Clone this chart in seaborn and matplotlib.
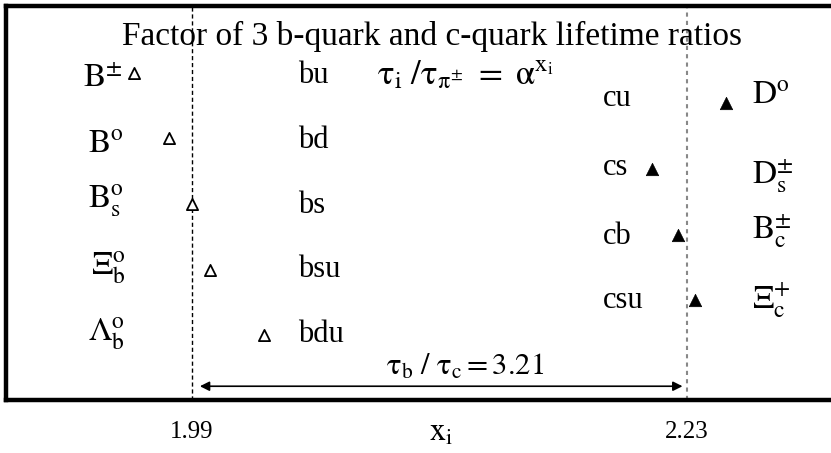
import matplotlib
matplotlib.use("Agg")
import matplotlib.pyplot as plt
import seaborn as sns
import pandas as pd

# Lifetime exponents x_i (tau_i / tau_pi = alpha^x_i)
b_hadrons = [r"$\mathrm{B}^{\pm}$", r"$\mathrm{B}^{\mathrm{o}}$", r"$\mathrm{B}_{\mathrm{s}}^{\mathrm{o}}$",
             r"$\Xi_{\mathrm{b}}^{\mathrm{o}}$", r"$\Lambda_{\mathrm{b}}^{\mathrm{o}}$"]
b_quarks = ["bu", "bd", "bs", "bsu", "bdu"]
b_x = [1.962, 1.979, 1.990, 1.999, 2.025]

c_hadrons = [r"$\mathrm{D}^{\mathrm{o}}$", r"$\mathrm{D}_{\mathrm{s}}^{\pm}$",
             r"$\mathrm{B}_{\mathrm{c}}^{\pm}$", r"$\Xi_{\mathrm{c}}^{+}$"]
c_quarks = ["cu", "cs", "cb", "csu"]
c_x = [2.249, 2.213, 2.226, 2.234]

ref_ticks = [1.99, 2.23]
tick_labels = ["1.99", "2.23"]
ratio_text = r"$\mathrm{\tau_b\ /\ \tau_c = 3.21}$"

sns.set_theme(style="white")
plt.rcParams["font.family"] = ["Liberation Serif", "DejaVu Serif"]
plt.rcParams["mathtext.fontset"] = "stix"
plt.rcParams["text.color"] = "black"
plt.rcParams["xtick.color"] = "black"

b_df = pd.DataFrame({"x": b_x, "row": [0, 1, 2, 3, 4]})
c_df = pd.DataFrame({"x": c_x, "row": [0.46, 1.47, 2.48, 3.47]})

fig = plt.figure(figsize=(8.31, 4.53), dpi=100)
ax = fig.add_axes([6 / 831, 1 - 400 / 453, 825 / 831, 394 / 453])

sns.scatterplot(data=b_df, x="x", y="row", marker="^", s=65, facecolor="white",
                edgecolor="black", linewidth=1.3, ax=ax, zorder=3)
sns.scatterplot(data=c_df, x="x", y="row", marker="^", s=80, color="black",
                edgecolor="black", linewidth=0.5, ax=ax, zorder=3)

ax.set_xlim(1.9, 2.3)
ax.set_ylim(4.99, -1.02)

# reference lines
ax.axvline(ref_ticks[0], color="black", lw=1.0, ls=(0, (3, 2)), zorder=1)
ax.axvline(ref_ticks[1], color="#888888", lw=1.5, ls=(0, (2, 2)), zorder=1)

# spines
for side in ["left", "top", "bottom"]:
    ax.spines[side].set_linewidth(3.2)
    ax.spines[side].set_color("black")
ax.spines["right"].set_visible(False)

ax.set_xticks(ref_ticks)
ax.set_xticklabels(tick_labels, fontsize=18)
ax.tick_params(axis="x", length=0, pad=15)
ax.set_yticks([])
ax.set_xlabel("")
ax.set_ylabel("")
ax.text(2.1109, -0.102, r"$\mathrm{x_i}$", transform=ax.get_xaxis_transform(),
        ha="center", va="baseline", fontsize=23)

fs = 22
pfs = 24
# title and formula
ax.text(2.1065, -0.43, "Factor of 3 b-quark and c-quark lifetime ratios",
        ha="center", va="baseline", fontsize=24)
ax.text(2.1225, 0.18, r"$\mathrm{\tau_i\ /\tau_{\pi^{\pm}}\ =\ \alpha^{x_i}}$",
        ha="center", va="baseline", fontsize=25)

# labels for b hadrons
left_y = [0.21, 1.21, 2.05, 3.08, 4.08]
left_x = [1.9375, 1.9397, 1.9397, 1.9412, 1.9397]
for name, lx, ly in zip(b_hadrons, left_x, left_y):
    ax.text(lx, ly, name, ha="left", va="baseline", fontsize=pfs)
bq_y = [0.15, 1.15, 2.14, 3.11, 4.11]
for q, qy in zip(b_quarks, bq_y):
    ax.text(2.0416, qy, q, ha="left", va="baseline", fontsize=fs)

# labels for c hadrons
cq_y = [0.50, 1.56, 2.61, 3.59]
for q, qy in zip(c_quarks, cq_y):
    ax.text(2.1895, qy, q, ha="left", va="baseline", fontsize=fs)
right_y = [0.47, 1.68, 2.52, 3.59]
for name, ry in zip(c_hadrons, right_y):
    ax.text(2.2617, ry, name, ha="left", va="baseline", fontsize=pfs)

# ratio arrow between the two reference lines
ax.annotate("", xy=(ref_ticks[0] + 0.004, 4.78), xytext=(ref_ticks[1] - 0.002, 4.78),
            arrowprops=dict(arrowstyle="<|-|>", color="black", lw=1.2,
                            mutation_scale=14, shrinkA=0, shrinkB=0))
ax.text(2.1225, 4.61, ratio_text, ha="center", va="baseline", fontsize=fs)

fig.savefig("out.png", dpi=100)
